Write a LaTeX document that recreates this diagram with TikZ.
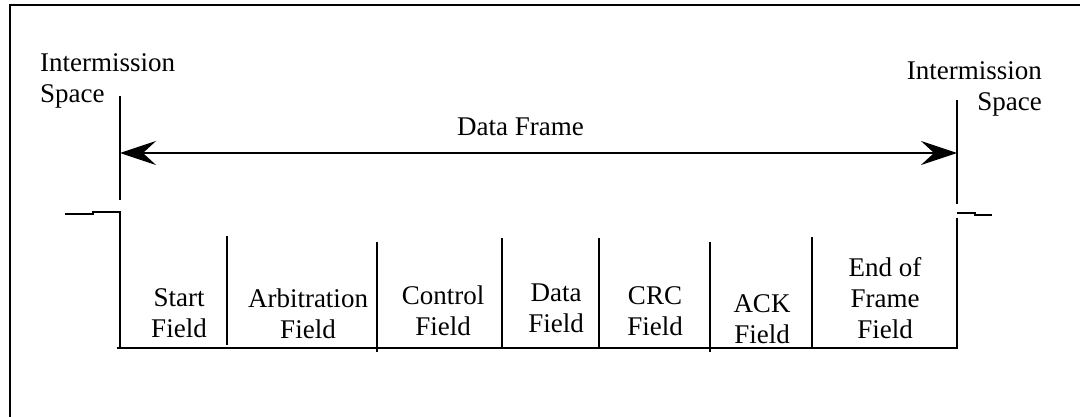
\documentclass[tikz,border=0pt]{standalone}
\usepackage{fontspec}
\setmainfont{Liberation Serif}
\usetikzlibrary{arrows.meta}
\tikzset{
  ln/.style={line width=1.6pt, black},
  frm/.style={line width=2pt, black},
  lbl/.style={inner sep=0pt, font=\fontsize{27}{31}\selectfont, align=center, anchor=base},
  dim/.style={line width=1.6pt, {Stealth[length=36pt,width=24pt,inset=13pt]}-{Stealth[length=36pt,width=24pt,inset=13pt]}}
}
\begin{document}
\begin{tikzpicture}[x=1pt,y=-1pt]
\useasboundingbox (0,0) rectangle (1080,417);
% outer frame (left and top edges)
\coordinate (fb) at (10,417);
\coordinate (fc) at (10,5);
\coordinate (fr) at (1080,5);
\draw[frm] (fb) -- (fc) -- (fr);
% intermission labels (anchor = baseline of last line)
\node[lbl, align=left, anchor=base west] (lis) at (40,103) {Intermission\\Space};
\node[lbl, align=right, anchor=base east] (ris) at (1042,111) {Intermission\\Space};
% intermission boundary lines
\coordinate (lt) at (120,96);  \coordinate (lb) at (120,200);
\coordinate (rt) at (957,100); \coordinate (rb) at (957,204);
\draw[ln] (lt) -- (lb);
\draw[ln] (rt) -- (rb);
% data frame arrow
\coordinate (al) at (120,153);
\coordinate (ar) at (957,153);
\draw[dim] (al) -- (ar);
\node[lbl, anchor=base west] (df) at (457,136) {Data Frame};
% signal / frame outline
\coordinate (s0) at (65,214);
\coordinate (s1) at (93,214);
\coordinate (s2) at (93,212);
\coordinate (s3) at (120,212);
\coordinate (s4) at (120,348);
\coordinate (b0) at (117,348);
\coordinate (s5) at (957,348);
\coordinate (s6) at (957,218);
\draw[ln] (s0) -- (s1) -- (s2) -- (s3) -- (s4);
\draw[ln] (b0) -- (s5) -- (s6);
\coordinate (e0) at (957,213);
\coordinate (e1) at (975,213);
\coordinate (e2) at (975,215);
\coordinate (e3) at (992,215);
\draw[ln] (e0) -- (e1) -- (e2) -- (e3);
% field dividers
\foreach \n/\x/\t/\b in {d1/227/236/345, d2/377/242/352, d3/502/238/348, d4/599/238/348, d5/710/242/352, d6/812/237/348}{
  \coordinate (\n t) at (\x,\t);
  \coordinate (\n b) at (\x,\b);
  \draw[ln] (\n t) -- (\n b);
}
% field labels (anchor = baseline of last line)
\node[lbl] (f1) at (179,337) {Start\\Field};
\node[lbl] (f2) at (308,338) {Arbitration\\Field};
\node[lbl] (f3) at (443,335) {Control\\Field};
\node[lbl] (f4) at (556,332) {Data\\Field};
\node[lbl] (f5) at (655,335) {CRC\\Field};
\node[lbl] (f6) at (762,343) {ACK\\Field};
\node[lbl] (f7) at (885,338) {End of\\Frame\\Field};
\end{tikzpicture}
\end{document}
